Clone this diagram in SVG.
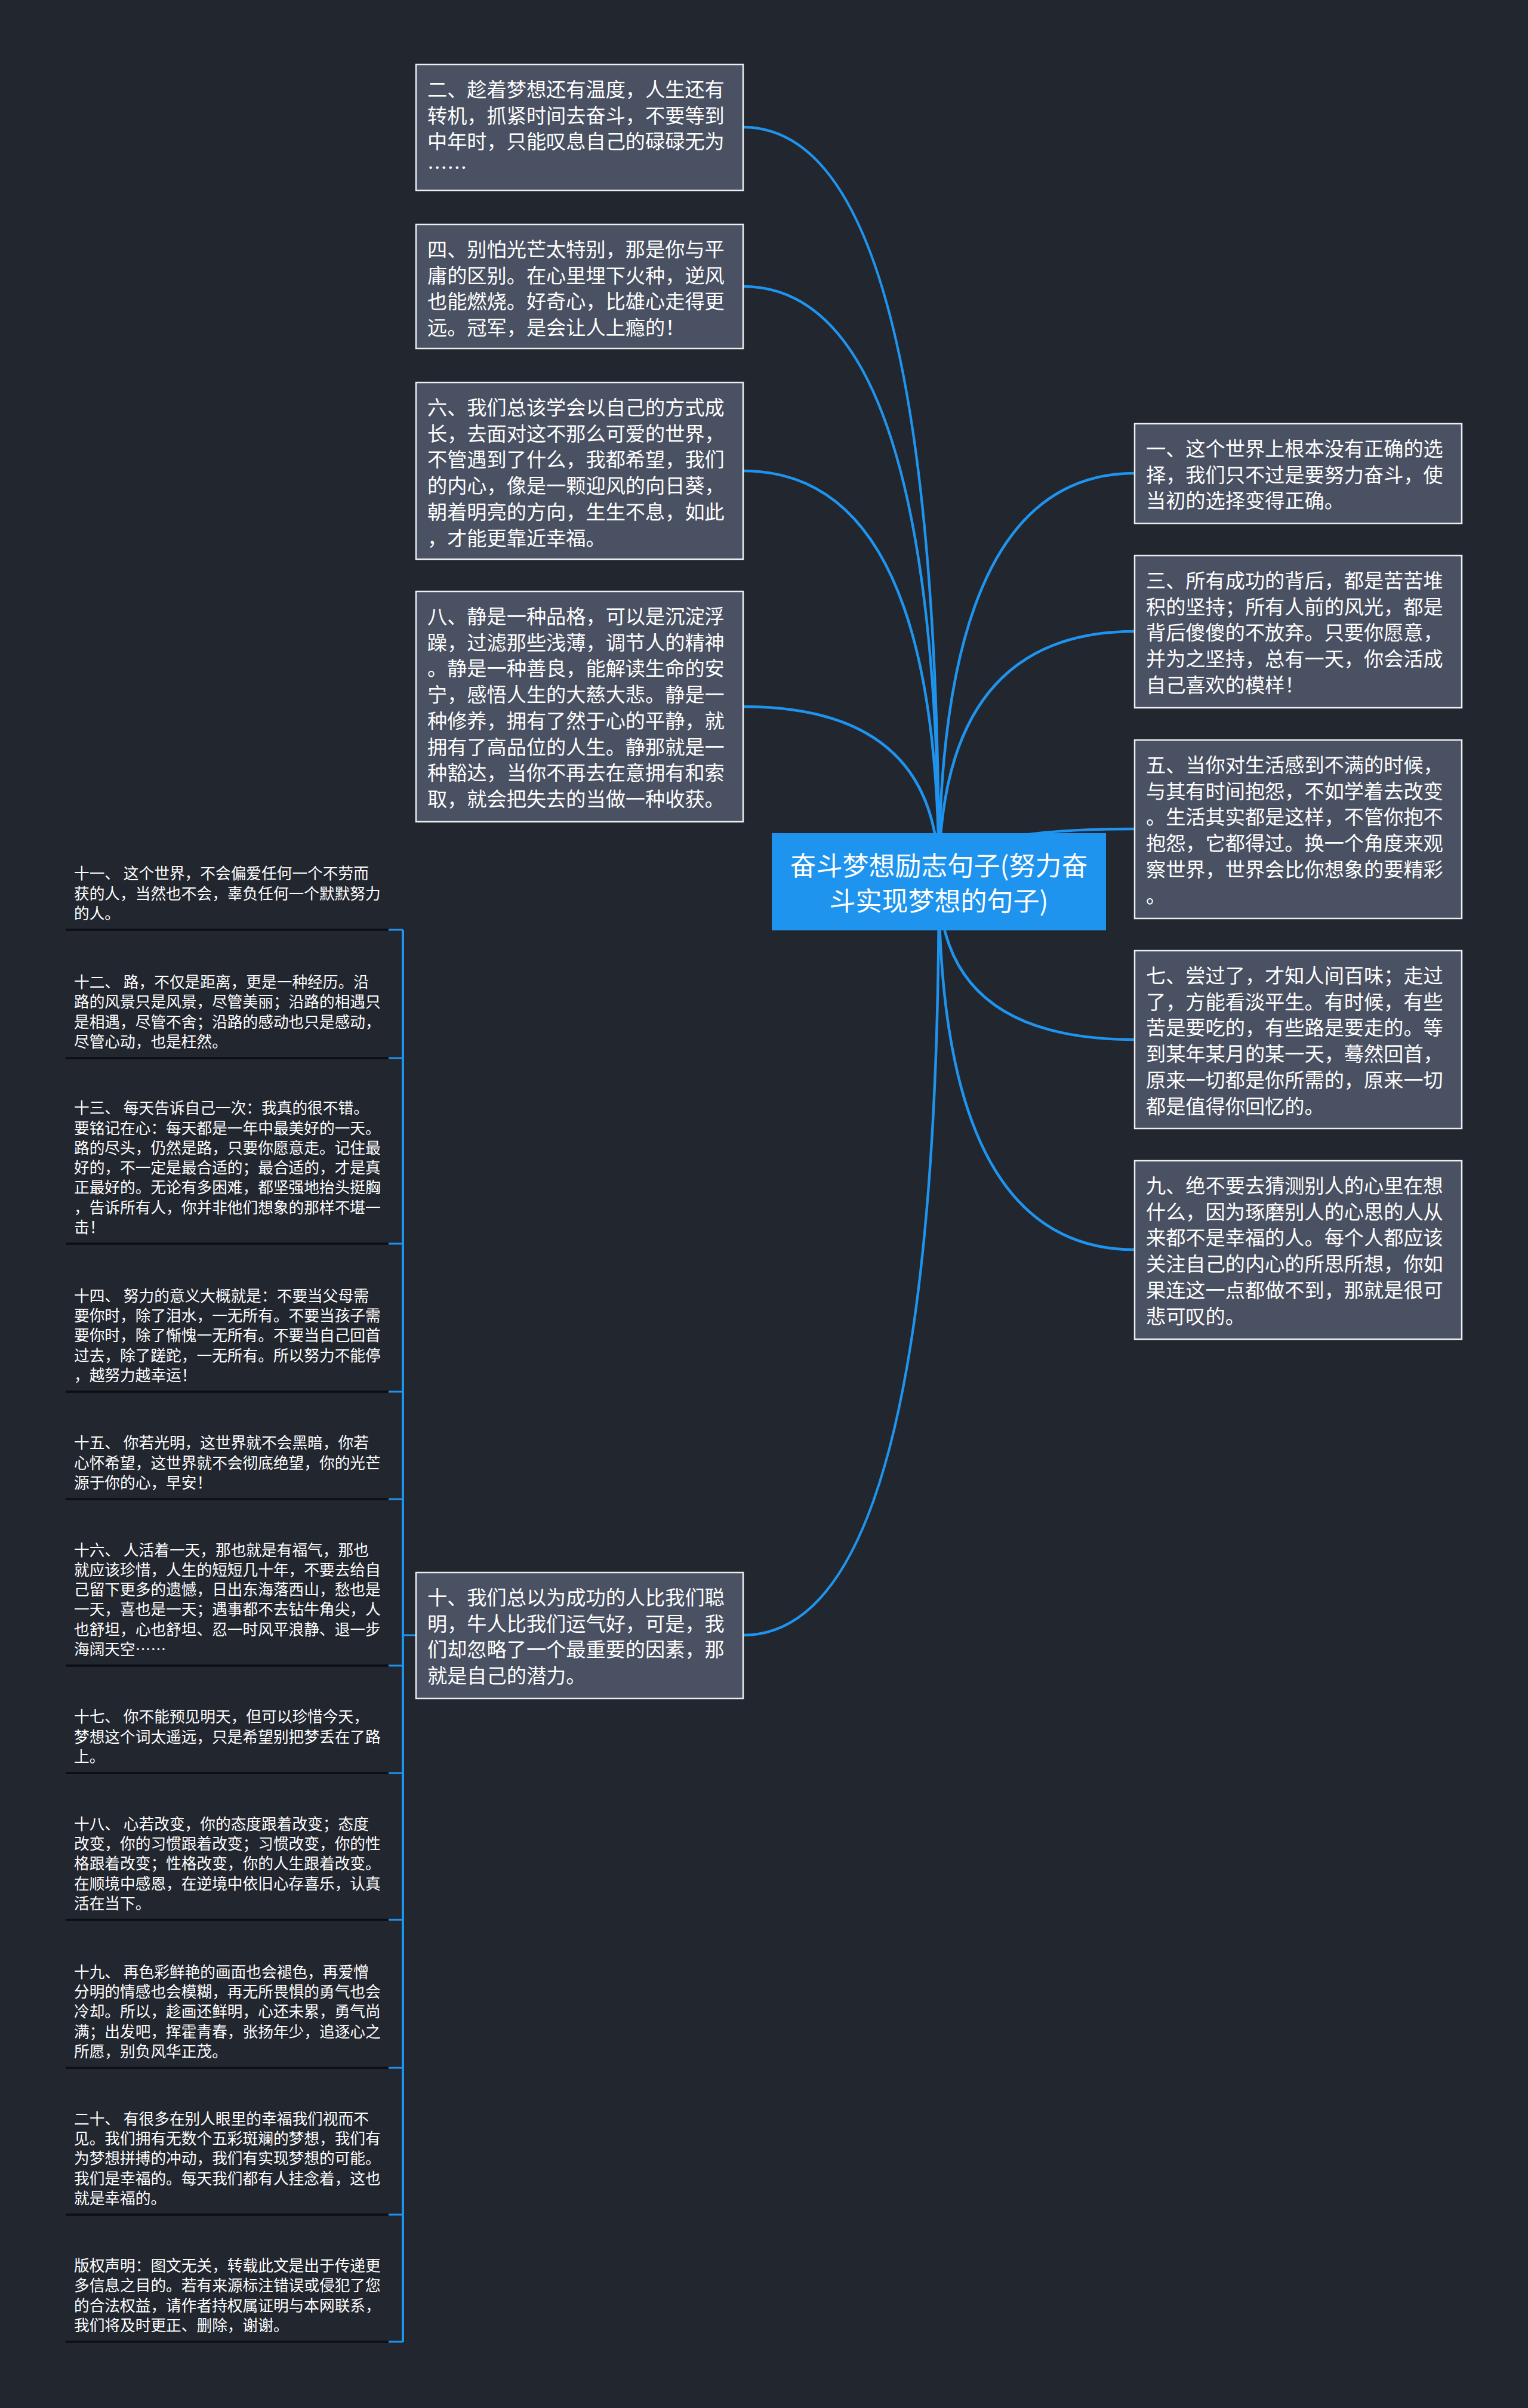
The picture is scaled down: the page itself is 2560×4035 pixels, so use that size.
<svg xmlns="http://www.w3.org/2000/svg" width="2560" height="4035" viewBox="0 0 2560 4035">
<defs>
<style>
.bg{fill:#22262f}
.box{fill:#4a5162;stroke:#eceef2;stroke-width:2.5}
.root{fill:#1f94ee}
.t{font-family:"Noto Sans CJK SC","Noto Sans",sans-serif;fill:#ffffff}
.big{font-size:33.2px}
.small{font-size:25.7px}
.rt{font-size:44px;text-anchor:middle}
.con{fill:none;stroke:#1f94ee;stroke-width:4.5}
.br{fill:none;stroke:#1f94ee;stroke-width:4}
.tick{fill:none;stroke:#1f94ee;stroke-width:3}
.sep{stroke:#0c0e12;stroke-width:3.5}
</style>
</defs>
<rect class="bg" x="0" y="0" width="2560" height="4035"/>
<g id="connectors">
<path class="con" d="M1573 1475 Q1573 213 1245 213"/>
<path class="con" d="M1573 1475 Q1573 480 1245 480"/>
<path class="con" d="M1573 1475 Q1573 789 1245 789"/>
<path class="con" d="M1573 1475 Q1573 1184 1245 1184"/>
<path class="con" d="M1573 1475 Q1573 2740 1245 2740"/>
<path class="con" d="M1573 1475 Q1573 793 1901 793"/>
<path class="con" d="M1573 1475 Q1573 1058 1901 1058"/>
<path class="con" d="M1573 1475 Q1573 1389 1901 1389"/>
<path class="con" d="M1573 1475 Q1573 1742 1901 1742"/>
<path class="con" d="M1573 1475 Q1573 2094 1901 2094"/>
<path class="br" d="M675 1558 V3924"/>
<path class="tick" d="M697 2740 H675"/>
<path class="tick" d="M651 1558 H675 M651 1773 H675 M651 2084 H675 M651 2332 H675 M651 2512 H675 M651 2791 H675 M651 2971 H675 M651 3217 H675 M651 3465 H675 M651 3711 H675 M651 3924 H675"/>
</g>
<g id="root">
<rect class="root" x="1293" y="1396" width="560" height="163"/>
<text class="t rt" x="1573" y="1467">奋斗梦想励志句子(努力奋</text>
<text class="t rt" x="1573" y="1526">斗实现梦想的句子)</text>
</g>
<g id="n2">
<rect class="box" x="697" y="108" width="548" height="211"/>
<text class="t big" x="716" y="162"><tspan x="716">二、趁着梦想还有温度，人生还有</tspan><tspan x="716" dy="43.7">转机，抓紧时间去奋斗，不要等到</tspan><tspan x="716" dy="43.7">中年时，只能叹息自己的碌碌无为</tspan><tspan x="716" dy="43.7">……</tspan></text>
</g>
<g id="n4">
<rect class="box" x="697" y="376" width="548" height="208"/>
<text class="t big" x="716" y="430"><tspan x="716">四、别怕光芒太特别，那是你与平</tspan><tspan x="716" dy="43.7">庸的区别。在心里埋下火种，逆风</tspan><tspan x="716" dy="43.7">也能燃烧。好奇心，比雄心走得更</tspan><tspan x="716" dy="43.7">远。冠军，是会让人上瘾的！</tspan></text>
</g>
<g id="n6">
<rect class="box" x="697" y="641" width="548" height="296"/>
<text class="t big" x="716" y="695"><tspan x="716">六、我们总该学会以自己的方式成</tspan><tspan x="716" dy="43.7">长，去面对这不那么可爱的世界，</tspan><tspan x="716" dy="43.7">不管遇到了什么，我都希望，我们</tspan><tspan x="716" dy="43.7">的内心，像是一颗迎风的向日葵，</tspan><tspan x="716" dy="43.7">朝着明亮的方向，生生不息，如此</tspan><tspan x="716" dy="43.7">，才能更靠近幸福。</tspan></text>
</g>
<g id="n8">
<rect class="box" x="697" y="991" width="548" height="386"/>
<text class="t big" x="716" y="1045"><tspan x="716">八、静是一种品格，可以是沉淀浮</tspan><tspan x="716" dy="43.7">躁，过滤那些浅薄，调节人的精神</tspan><tspan x="716" dy="43.7">。静是一种善良，能解读生命的安</tspan><tspan x="716" dy="43.7">宁，感悟人生的大慈大悲。静是一</tspan><tspan x="716" dy="43.7">种修养，拥有了然于心的平静，就</tspan><tspan x="716" dy="43.7">拥有了高品位的人生。静那就是一</tspan><tspan x="716" dy="43.7">种豁达，当你不再去在意拥有和索</tspan><tspan x="716" dy="43.7">取，就会把失去的当做一种收获。</tspan></text>
</g>
<g id="n10">
<rect class="box" x="697" y="2635" width="548" height="211"/>
<text class="t big" x="716" y="2689"><tspan x="716">十、我们总以为成功的人比我们聪</tspan><tspan x="716" dy="43.7">明，牛人比我们运气好，可是，我</tspan><tspan x="716" dy="43.7">们却忽略了一个最重要的因素，那</tspan><tspan x="716" dy="43.7">就是自己的潜力。</tspan></text>
</g>
<g id="n1">
<rect class="box" x="1901" y="710" width="548" height="167"/>
<text class="t big" x="1920" y="764"><tspan x="1920">一、这个世界上根本没有正确的选</tspan><tspan x="1920" dy="43.7">择，我们只不过是要努力奋斗，使</tspan><tspan x="1920" dy="43.7">当初的选择变得正确。</tspan></text>
</g>
<g id="n3">
<rect class="box" x="1901" y="931" width="548" height="255"/>
<text class="t big" x="1920" y="985"><tspan x="1920">三、所有成功的背后，都是苦苦堆</tspan><tspan x="1920" dy="43.7">积的坚持；所有人前的风光，都是</tspan><tspan x="1920" dy="43.7">背后傻傻的不放弃。只要你愿意，</tspan><tspan x="1920" dy="43.7">并为之坚持，总有一天，你会活成</tspan><tspan x="1920" dy="43.7">自己喜欢的模样！</tspan></text>
</g>
<g id="n5">
<rect class="box" x="1901" y="1240" width="548" height="299"/>
<text class="t big" x="1920" y="1294"><tspan x="1920">五、当你对生活感到不满的时候，</tspan><tspan x="1920" dy="43.7">与其有时间抱怨，不如学着去改变</tspan><tspan x="1920" dy="43.7">。生活其实都是这样，不管你抱不</tspan><tspan x="1920" dy="43.7">抱怨，它都得过。换一个角度来观</tspan><tspan x="1920" dy="43.7">察世界，世界会比你想象的要精彩</tspan><tspan x="1920" dy="43.7">。</tspan></text>
</g>
<g id="n7">
<rect class="box" x="1901" y="1593" width="548" height="298"/>
<text class="t big" x="1920" y="1647"><tspan x="1920">七、尝过了，才知人间百味；走过</tspan><tspan x="1920" dy="43.7">了，方能看淡平生。有时候，有些</tspan><tspan x="1920" dy="43.7">苦是要吃的，有些路是要走的。等</tspan><tspan x="1920" dy="43.7">到某年某月的某一天，蓦然回首，</tspan><tspan x="1920" dy="43.7">原来一切都是你所需的，原来一切</tspan><tspan x="1920" dy="43.7">都是值得你回忆的。</tspan></text>
</g>
<g id="n9">
<rect class="box" x="1901" y="1945" width="548" height="299"/>
<text class="t big" x="1920" y="1999"><tspan x="1920">九、绝不要去猜测别人的心里在想</tspan><tspan x="1920" dy="43.7">什么，因为琢磨别人的心思的人从</tspan><tspan x="1920" dy="43.7">来都不是幸福的人。每个人都应该</tspan><tspan x="1920" dy="43.7">关注自己的内心的所思所想，你如</tspan><tspan x="1920" dy="43.7">果连这一点都做不到，那就是很可</tspan><tspan x="1920" dy="43.7">悲可叹的。</tspan></text>
</g>
<g id="n11">
<text class="t small" x="124" y="1473.4"><tspan x="124">十一、 这个世界，不会偏爱任何一个不劳而</tspan><tspan x="124" dy="33.3">获的人，当然也不会，辜负任何一个默默努力</tspan><tspan x="124" dy="33.3">的人。</tspan></text>
<line class="sep" x1="110" y1="1558" x2="651" y2="1558"/>
</g>
<g id="n12">
<text class="t small" x="124" y="1655.1"><tspan x="124">十二、 路，不仅是距离，更是一种经历。沿</tspan><tspan x="124" dy="33.3">路的风景只是风景，尽管美丽；沿路的相遇只</tspan><tspan x="124" dy="33.3">是相遇，尽管不舍；沿路的感动也只是感动，</tspan><tspan x="124" dy="33.3">尽管心动，也是枉然。</tspan></text>
<line class="sep" x1="110" y1="1773" x2="651" y2="1773"/>
</g>
<g id="n13">
<text class="t small" x="124" y="1866.2"><tspan x="124">十三、 每天告诉自己一次：我真的很不错。</tspan><tspan x="124" dy="33.3">要铭记在心：每天都是一年中最美好的一天。</tspan><tspan x="124" dy="33.3">路的尽头，仍然是路，只要你愿意走。记住最</tspan><tspan x="124" dy="33.3">好的，不一定是最合适的；最合适的，才是真</tspan><tspan x="124" dy="33.3">正最好的。无论有多困难，都坚强地抬头挺胸</tspan><tspan x="124" dy="33.3">，告诉所有人，你并非他们想象的那样不堪一</tspan><tspan x="124" dy="33.3">击！</tspan></text>
<line class="sep" x1="110" y1="2084" x2="651" y2="2084"/>
</g>
<g id="n14">
<text class="t small" x="124" y="2180.8"><tspan x="124">十四、 努力的意义大概就是：不要当父母需</tspan><tspan x="124" dy="33.3">要你时，除了泪水，一无所有。不要当孩子需</tspan><tspan x="124" dy="33.3">要你时，除了惭愧一无所有。不要当自己回首</tspan><tspan x="124" dy="33.3">过去，除了蹉跎，一无所有。所以努力不能停</tspan><tspan x="124" dy="33.3">，越努力越幸运！</tspan></text>
<line class="sep" x1="110" y1="2332" x2="651" y2="2332"/>
</g>
<g id="n15">
<text class="t small" x="124" y="2427.4"><tspan x="124">十五、 你若光明，这世界就不会黑暗，你若</tspan><tspan x="124" dy="33.3">心怀希望，这世界就不会彻底绝望，你的光芒</tspan><tspan x="124" dy="33.3">源于你的心，早安！</tspan></text>
<line class="sep" x1="110" y1="2512" x2="651" y2="2512"/>
</g>
<g id="n16">
<text class="t small" x="124" y="2606.5"><tspan x="124">十六、 人活着一天，那也就是有福气，那也</tspan><tspan x="124" dy="33.3">就应该珍惜，人生的短短几十年，不要去给自</tspan><tspan x="124" dy="33.3">己留下更多的遗憾，日出东海落西山，愁也是</tspan><tspan x="124" dy="33.3">一天，喜也是一天；遇事都不去钻牛角尖，人</tspan><tspan x="124" dy="33.3">也舒坦，心也舒坦、忍一时风平浪静、退一步</tspan><tspan x="124" dy="33.3">海阔天空……</tspan></text>
<line class="sep" x1="110" y1="2791" x2="651" y2="2791"/>
</g>
<g id="n17">
<text class="t small" x="124" y="2886.4"><tspan x="124">十七、 你不能预见明天，但可以珍惜今天，</tspan><tspan x="124" dy="33.3">梦想这个词太遥远，只是希望别把梦丢在了路</tspan><tspan x="124" dy="33.3">上。</tspan></text>
<line class="sep" x1="110" y1="2971" x2="651" y2="2971"/>
</g>
<g id="n18">
<text class="t small" x="124" y="3065.8"><tspan x="124">十八、 心若改变，你的态度跟着改变；态度</tspan><tspan x="124" dy="33.3">改变，你的习惯跟着改变；习惯改变，你的性</tspan><tspan x="124" dy="33.3">格跟着改变；性格改变，你的人生跟着改变。</tspan><tspan x="124" dy="33.3">在顺境中感恩，在逆境中依旧心存喜乐，认真</tspan><tspan x="124" dy="33.3">活在当下。</tspan></text>
<line class="sep" x1="110" y1="3217" x2="651" y2="3217"/>
</g>
<g id="n19">
<text class="t small" x="124" y="3313.8"><tspan x="124">十九、 再色彩鲜艳的画面也会褪色，再爱憎</tspan><tspan x="124" dy="33.3">分明的情感也会模糊，再无所畏惧的勇气也会</tspan><tspan x="124" dy="33.3">冷却。所以，趁画还鲜明，心还未累，勇气尚</tspan><tspan x="124" dy="33.3">满；出发吧，挥霍青春，张扬年少，追逐心之</tspan><tspan x="124" dy="33.3">所愿，别负风华正茂。</tspan></text>
<line class="sep" x1="110" y1="3465" x2="651" y2="3465"/>
</g>
<g id="n20">
<text class="t small" x="124" y="3559.8"><tspan x="124">二十、 有很多在别人眼里的幸福我们视而不</tspan><tspan x="124" dy="33.3">见。我们拥有无数个五彩斑斓的梦想，我们有</tspan><tspan x="124" dy="33.3">为梦想拼搏的冲动，我们有实现梦想的可能。</tspan><tspan x="124" dy="33.3">我们是幸福的。每天我们都有人挂念着，这也</tspan><tspan x="124" dy="33.3">就是幸福的。</tspan></text>
<line class="sep" x1="110" y1="3711" x2="651" y2="3711"/>
</g>
<g id="n21">
<text class="t small" x="124" y="3806.1"><tspan x="124">版权声明：图文无关，转载此文是出于传递更</tspan><tspan x="124" dy="33.3">多信息之目的。若有来源标注错误或侵犯了您</tspan><tspan x="124" dy="33.3">的合法权益，请作者持权属证明与本网联系，</tspan><tspan x="124" dy="33.3">我们将及时更正、删除，谢谢。</tspan></text>
<line class="sep" x1="110" y1="3924" x2="651" y2="3924"/>
</g>
</svg>
